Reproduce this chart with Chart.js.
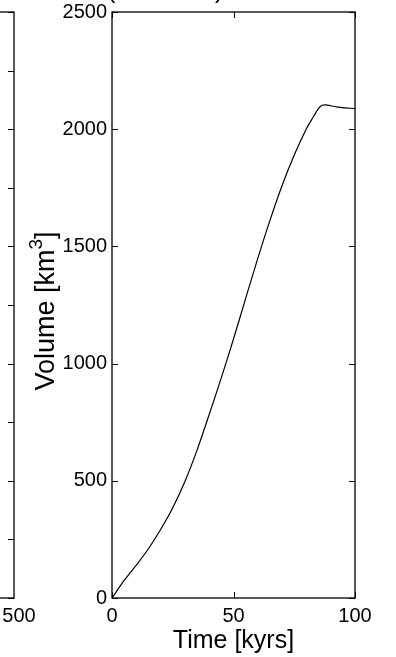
<!DOCTYPE html>
<html>
<head>
    <title>Volume</title>
    <script src="https://cdn.jsdelivr.net/npm/chart.js"></script>
    <style>
        html, body { margin: 0; padding: 0; background: #fff; overflow: hidden; }
        #wrap { position: relative; width: 396px; height: 657px; overflow: hidden; }
        canvas { position: absolute; top: 0; }
    </style>
</head>
<body>
<div id="wrap">
    <canvas id="leftChart" width="240" height="657" style="left:-200px"></canvas>
    <canvas id="volChart" width="396" height="657" style="left:0"></canvas>
</div>
<script>
    // erupted volume against time
    const timeKyr = [0, 2.5, 5, 7.5, 10, 15, 20, 25, 30, 35, 40, 45, 50, 55, 60, 65, 70, 75, 80, 83, 85, 86.5, 88, 90, 93, 96, 100];
    const volumeKm3 = [0, 38, 75, 108, 140, 210, 292, 385, 497, 631, 783, 940, 1105, 1278, 1449, 1611, 1760, 1890, 2002, 2055, 2089, 2102, 2104, 2100, 2094, 2091, 2088];
    const xTicks = [0, 50, 100];
    const yTicks = [0, 500, 1000, 1500, 2000, 2500];

    // neighbouring panel, only its right edge shows
    const leftXTicks = [0, 100, 200, 300, 400, 500];
    const leftYTicks = [0, 1, 2, 3, 4, 5, 6, 7, 8, 9, 10];

    const FONT = '"Liberation Sans", Arial, Helvetica, sans-serif';

    function drawBox(ctx, a) {
        ctx.save();
        ctx.strokeStyle = '#000';
        ctx.lineWidth = 1.3;
        ctx.strokeRect(a.left, a.top, a.right - a.left, a.bottom - a.top);
        ctx.restore();
    }

    const matlabAxes = {
        id: 'matlabAxes',
        afterDraw(chart) {
            const ctx = chart.ctx;
            const a = chart.chartArea;
            const xs = chart.scales.x, ys = chart.scales.y;
            drawBox(ctx, a);

            ctx.save();
            ctx.strokeStyle = '#000';
            ctx.lineWidth = 1;
            const tl = 6;
            ctx.beginPath();
            xTicks.forEach(v => {
                const px = Math.round(xs.getPixelForValue(v)) + 0.5;
                ctx.moveTo(px, a.bottom); ctx.lineTo(px, a.bottom - tl);
                ctx.moveTo(px, a.top); ctx.lineTo(px, a.top + tl);
            });
            yTicks.forEach(v => {
                const py = Math.round(ys.getPixelForValue(v)) + 0.5;
                ctx.moveTo(a.left, py); ctx.lineTo(a.left + tl, py);
                ctx.moveTo(a.right, py); ctx.lineTo(a.right - tl, py);
            });
            ctx.stroke();

            ctx.fillStyle = '#000';
            ctx.font = '20px ' + FONT;
            ctx.textAlign = 'center';
            ctx.textBaseline = 'top';
            xTicks.forEach(v => ctx.fillText(String(v), xs.getPixelForValue(v), a.bottom + 8));
            ctx.textAlign = 'right';
            ctx.textBaseline = 'middle';
            yTicks.forEach(v => ctx.fillText(String(v), a.left - 5, ys.getPixelForValue(v)));

            // axis titles
            ctx.font = '25px ' + FONT;
            ctx.textAlign = 'center';
            ctx.textBaseline = 'alphabetic';
            ctx.fillText('Time [kyrs]', (a.left + a.right) / 2, 648);

            ctx.translate(54, 311);
            ctx.rotate(-Math.PI / 2);
            const big = '27px ' + FONT, small = '19px ' + FONT;
            ctx.font = big;
            const w1 = ctx.measureText('Volume [km').width;
            const w3 = ctx.measureText(']').width;
            ctx.font = small;
            const w2 = ctx.measureText('3').width;
            let x0 = -(w1 + w2 + w3) / 2;
            ctx.textAlign = 'left';
            ctx.font = big;
            ctx.fillText('Volume [km', x0, 0);
            ctx.font = small;
            ctx.fillText('3', x0 + w1, -12);
            ctx.font = big;
            ctx.fillText(']', x0 + w1 + w2, 0);
            ctx.restore();

            // title descenders poking in from above
            ctx.save();
            ctx.fillStyle = '#000';
            ctx.font = '25px ' + FONT;
            ctx.textBaseline = 'alphabetic';
            ctx.textAlign = 'left';
            ctx.fillText('y', -8, -2);
            ctx.fillText('(', 107, -2);
            ctx.fillText(')', 215, -2);
            ctx.restore();
        }
    };

    const leftAxes = {
        id: 'leftAxes',
        afterDraw(chart) {
            const ctx = chart.ctx;
            const a = chart.chartArea;
            const xs = chart.scales.x, ys = chart.scales.y;
            drawBox(ctx, a);
            ctx.save();
            ctx.strokeStyle = '#000';
            ctx.lineWidth = 1;
            ctx.beginPath();
            leftYTicks.forEach(v => {
                const py = Math.round(ys.getPixelForValue(v)) + 0.5;
                ctx.moveTo(a.right, py); ctx.lineTo(a.right - 6, py);
            });
            ctx.stroke();
            ctx.fillStyle = '#000';
            ctx.font = '20px ' + FONT;
            ctx.textAlign = 'center';
            ctx.textBaseline = 'top';
            leftXTicks.forEach(v => ctx.fillText(String(v), xs.getPixelForValue(v) + 5, a.bottom + 8));
            ctx.restore();
        }
    };

    new Chart(document.getElementById('leftChart').getContext('2d'), {
        type: 'line',
        data: { datasets: [] },
        options: {
            responsive: false,
            animation: false,
            layout: { padding: { left: 40, top: 12, right: 26, bottom: 59 } },
            plugins: { legend: { display: false }, tooltip: { enabled: false } },
            scales: {
                x: { type: 'linear', display: false, min: 0, max: 500 },
                y: { type: 'linear', display: false, min: 0, max: 10 }
            }
        },
        plugins: [leftAxes]
    });

    new Chart(document.getElementById('volChart').getContext('2d'), {
        type: 'line',
        data: {
            datasets: [{
                data: timeKyr.map((t, i) => ({ x: t, y: volumeKm3[i] })),
                borderColor: '#000',
                borderWidth: 1.2,
                pointRadius: 0,
                fill: false,
                tension: 0.3
            }]
        },
        options: {
            responsive: false,
            animation: false,
            layout: { padding: { left: 112, top: 12, right: 41, bottom: 59 } },
            plugins: { legend: { display: false }, tooltip: { enabled: false } },
            scales: {
                x: { type: 'linear', display: false, min: 0, max: 100 },
                y: { type: 'linear', display: false, min: 0, max: 2500 }
            }
        },
        plugins: [matlabAxes]
    });
</script>
</body>
</html>
